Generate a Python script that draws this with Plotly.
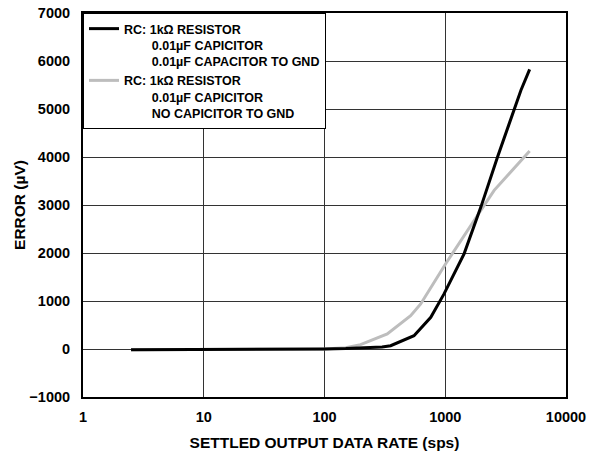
import plotly.graph_objects as go

# Data
rate_black = [2.5, 5, 10, 20, 50, 100, 150, 200, 300, 353, 551, 759, 977, 1432, 1972, 2710, 3608, 4235, 5000]
err_black = [-15, -15, -10, -8, -5, 0, 8, 15, 40, 69, 278, 660, 1148, 1983, 2956, 4000, 4906, 5392, 5825]

rate_gray = [2.5, 5, 10, 20, 50, 100, 150, 199, 331, 517, 626, 1008, 1734, 2541, 5000]
err_gray = [-15, -15, -10, -8, -5, 0, 25, 90, 313, 695, 939, 1775, 2678, 3305, 4125]

name_black = "RC: 1kΩ RESISTOR<br>" + "\u00a0" * 8 + "0.01µF CAPICITOR<br>" + "\u00a0" * 8 + "0.01µF CAPACITOR TO GND"
name_gray = "RC: 1kΩ RESISTOR<br>" + "\u00a0" * 8 + "0.01µF CAPICITOR<br>" + "\u00a0" * 8 + "NO CAPICITOR TO GND"

x_tickvals = [1, 10, 100, 1000, 10000]
x_ticktext = ["1", "10", "100", "1000", "10000"]
y_tickvals = [-1000, 0, 1000, 2000, 3000, 4000, 5000, 6000, 7000]

FONT = "Liberation Sans, Arial, sans-serif"

fig = go.Figure()
fig.add_trace(go.Scatter(x=rate_gray, y=err_gray, mode="lines", name=name_gray,
                         line=dict(color="#bdbdbd", width=3)))
fig.add_trace(go.Scatter(x=rate_black, y=err_black, mode="lines", name=name_black,
                         line=dict(color="#000000", width=3)))

fig.update_layout(
    width=598, height=452,
    margin=dict(l=83, r=32, t=13, b=55, autoexpand=False),
    paper_bgcolor="white", plot_bgcolor="white",
    font=dict(family=FONT, color="black", weight="bold"),
    showlegend=True,
    legend=dict(x=0, y=1, xanchor="left", yanchor="top", bgcolor="white",
                bordercolor="black", borderwidth=1, traceorder="reversed",
                font=dict(family=FONT, size=12.5, color="black", weight="bold"),
                valign="top", tracegroupgap=0, itemwidth=30),
    xaxis=dict(type="log", range=[0, 4], tickvals=x_tickvals, ticktext=x_ticktext,
               showgrid=True, gridcolor="#333333", gridwidth=1,
               showline=True, linecolor="black", linewidth=2, mirror=True,
               ticks="", ticklabelstandoff=6, automargin=False,
               tickfont=dict(family=FONT, size=14.5, color="black", weight="bold"),
               zeroline=False,
               title=dict(text="SETTLED OUTPUT DATA RATE (sps)", standoff=13,
                          font=dict(family=FONT, size=15.5, color="black", weight="bold"))),
    yaxis=dict(range=[-1000, 7000], tickvals=y_tickvals,
               showgrid=True, gridcolor="#333333", gridwidth=1,
               showline=True, linecolor="black", linewidth=2, mirror=True,
               ticks="", ticklabelstandoff=8, automargin=False,
               tickfont=dict(family=FONT, size=14.5, color="black", weight="bold"),
               zeroline=False,
               title=dict(text="ERROR (µV)", standoff=0,
                          font=dict(family=FONT, size=15.5, color="black", weight="bold"))),
)

fig.write_html("out.html", config={"displayModeBar": False},
               post_script="document.body.style.margin='0';")
